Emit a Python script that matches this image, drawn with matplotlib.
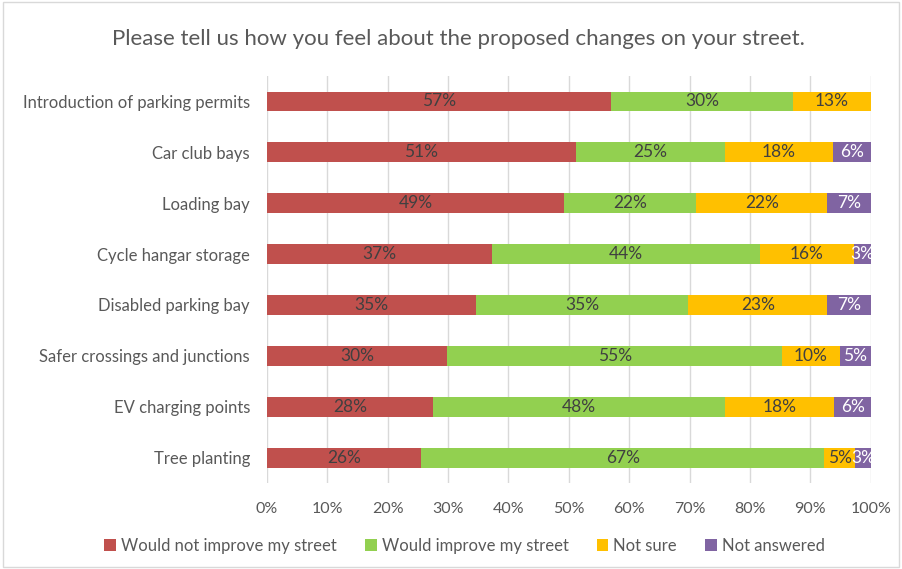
import matplotlib
matplotlib.use("Agg")
import matplotlib.pyplot as plt
from matplotlib.patches import Rectangle
from matplotlib.ticker import PercentFormatter

plt.rcParams['font.family'] = ['Lato', 'DejaVu Sans']

categories = ['Introduction of parking permits', 'Car club bays', 'Loading bay',
              'Cycle hangar storage', 'Disabled parking bay',
              'Safer crossings and junctions', 'EV charging points', 'Tree planting']
series = ['Would not improve my street', 'Would improve my street', 'Not sure', 'Not answered']

# share of responses per category (percent)
not_improve = [57.0, 51.2, 49.3, 37.3, 34.7, 29.9, 27.6, 25.6]
improve = [30.2, 24.7, 21.8, 44.3, 35.1, 55.4, 48.3, 66.7]
not_sure = [12.8, 17.8, 21.7, 15.6, 23.0, 9.6, 18.1, 5.1]
not_answered = [0.0, 6.3, 7.2, 2.8, 7.2, 5.1, 6.0, 2.6]

colors = ['#c0504d', '#92d050', '#ffc000', '#8064a2']
label_colors = ['#404040', '#404040', '#404040', 'white']

fig = plt.figure(figsize=(9.02, 5.69), dpi=100)
ax = fig.add_axes([0.2957, 0.1511, 0.6696, 0.7153])

fig.patches.append(Rectangle((0.003, 0.004), 0.994, 0.992, transform=fig.transFigure,
                             fill=False, edgecolor='#d9d9d9', linewidth=1))

ypos = list(range(len(categories)))
left = [0.0] * len(categories)
for vals, name, col, lcol in zip([not_improve, improve, not_sure, not_answered],
                                 series, colors, label_colors):
    bars = ax.barh(ypos, vals, left=left, height=0.39, color=col, label=name, zorder=3)
    for b, v in zip(bars, vals):
        if v > 0:
            ax.text(b.get_x() + b.get_width() / 2, b.get_y() + b.get_height() / 2,
                    '%d%%' % round(v), ha='center', va='center', color=lcol,
                    fontsize=12.5, zorder=4)
    left = [l + v for l, v in zip(left, vals)]

ax.set_xlim(0, 100)
ax.set_ylim(len(categories) - 0.5, -0.5)
ax.set_xticks(range(0, 101, 10))
ax.xaxis.set_major_formatter(PercentFormatter(decimals=0))
ax.set_yticks(ypos)
ax.set_yticklabels(categories)
ax.tick_params(axis='both', length=0, labelsize=11.5, colors='#595959')
ax.tick_params(axis='y', labelsize=12, pad=12)
ax.tick_params(axis='x', pad=14)
ax.grid(axis='x', color='#d9d9d9', linewidth=1, zorder=0)
for s in ax.spines.values():
    s.set_visible(False)

fig.text(0.508, 0.932, 'Please tell us how you feel about the proposed changes on your street.',
         ha='center', va='center', fontsize=16, color='#595959')

ax.legend(loc='center', bbox_to_anchor=(0.515, 0.041), bbox_transform=fig.transFigure,
          ncol=4, frameon=False, fontsize=12, handlelength=0.7, handleheight=0.7,
          handletextpad=0.3, columnspacing=1.7, labelcolor='#595959')

fig.savefig('out.png', dpi=100)
